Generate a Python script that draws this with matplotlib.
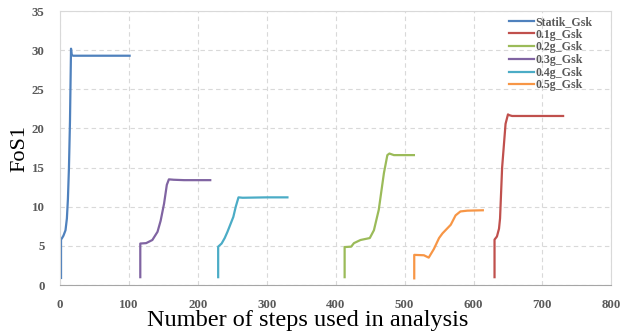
import matplotlib.pyplot as plt

# FoS1 against analysis step for each load case
statik_x = [1.5, 1.5, 3, 5, 8, 10, 11.5, 13, 14.5, 16, 17, 19, 30, 60, 101]
statik_y = [0.9, 5.8, 6.0, 6.3, 7.0, 8.5, 11, 15, 21, 30.2, 29.4, 29.3, 29.3, 29.3, 29.3]

g01_x = [630.5, 630.5, 634, 637, 638.5, 641.5, 646.5, 650, 652, 656, 680, 730]
g01_y = [1.0, 5.8, 6.2, 7.2, 8.5, 15.0, 20.6, 21.8, 21.7, 21.6, 21.6, 21.6]

g02_x = [413, 413, 422.5, 426.5, 436, 449.5, 455.5, 462.5, 470, 475, 478, 484.5, 513.5]
g02_y = [1.0, 4.85, 4.9, 5.35, 5.75, 6.0, 7.0, 9.6, 14.3, 16.6, 16.8, 16.6, 16.6]

g03_x = [116.5, 116.5, 125, 134, 141.5, 146, 151, 155, 158, 165, 180, 200, 218]
g03_y = [1.0, 5.3, 5.35, 5.75, 6.8, 8.2, 10.4, 12.8, 13.5, 13.45, 13.4, 13.4, 13.4]

g04_x = [229.5, 229.5, 234.5, 239, 243, 251.5, 255, 259, 265, 300, 330]
g04_y = [1.0, 4.9, 5.3, 6.0, 6.8, 8.7, 10.0, 11.2, 11.15, 11.2, 11.2]

g05_x = [514, 514, 528, 535, 542.5, 550, 555, 567, 574, 581, 591, 613.5]
g05_y = [0.85, 3.85, 3.8, 3.5, 4.6, 6.0, 6.6, 7.7, 8.9, 9.4, 9.5, 9.55]

series = [
    ("Statik_Gsk", statik_x, statik_y, "#4F81BD"),
    ("0.1g_Gsk", g01_x, g01_y, "#C0504D"),
    ("0.2g_Gsk", g02_x, g02_y, "#9BBB59"),
    ("0.3g_Gsk", g03_x, g03_y, "#8064A2"),
    ("0.4g_Gsk", g04_x, g04_y, "#4BACC6"),
    ("0.5g_Gsk", g05_x, g05_y, "#F79646"),
]

x_ticks = [0, 100, 200, 300, 400, 500, 600, 700, 800]
y_ticks = [0, 5, 10, 15, 20, 25, 30, 35]

fig = plt.figure(figsize=(6.23, 3.34), dpi=100)
ax = fig.add_axes([0.0963, 0.1467, 0.885, 0.82])

for name, xs, ys, col in series:
    ax.plot(xs, ys, color=col, lw=1.6, label=name)

ax.set_xlim(0, 800)
ax.set_ylim(0, 35)
ax.set_xticks(x_ticks)
ax.set_yticks(y_ticks)
ax.grid(True, color="#D9D9D9", ls=(0, (4, 3)), lw=0.8)
ax.set_axisbelow(True)
ax.tick_params(length=0, colors="#595959")
ax.tick_params(axis="y", pad=11)
ax.tick_params(axis="x", pad=10)
for lab in ax.get_xticklabels() + ax.get_yticklabels():
    lab.set_family("Liberation Serif")
    lab.set_fontweight("bold")
    lab.set_fontsize(9.3)

for side in ["top", "right", "left"]:
    ax.spines[side].set_color("#D9D9D9")
ax.spines["bottom"].set_color("#A6A6A6")

# x label sits a little left of the axes centre
ax.set_xlabel("Number of steps used in analysis", family="Liberation Serif",
              fontsize=17.5, va="top")
ax.xaxis.set_label_coords(0.45, -0.092)
ax.set_ylabel("FoS1", family="Liberation Serif", fontsize=16, labelpad=2)

leg = ax.legend(loc="upper right", bbox_to_anchor=(0.975, 1.0), frameon=False,
                prop={"family": "Liberation Serif", "weight": "bold", "size": 8.6},
                handlelength=2.1, handletextpad=0.15, labelspacing=0.06,
                borderaxespad=0.0)
for t in leg.get_texts():
    t.set_color("#595959")

fig.savefig("out.png", dpi=100)
